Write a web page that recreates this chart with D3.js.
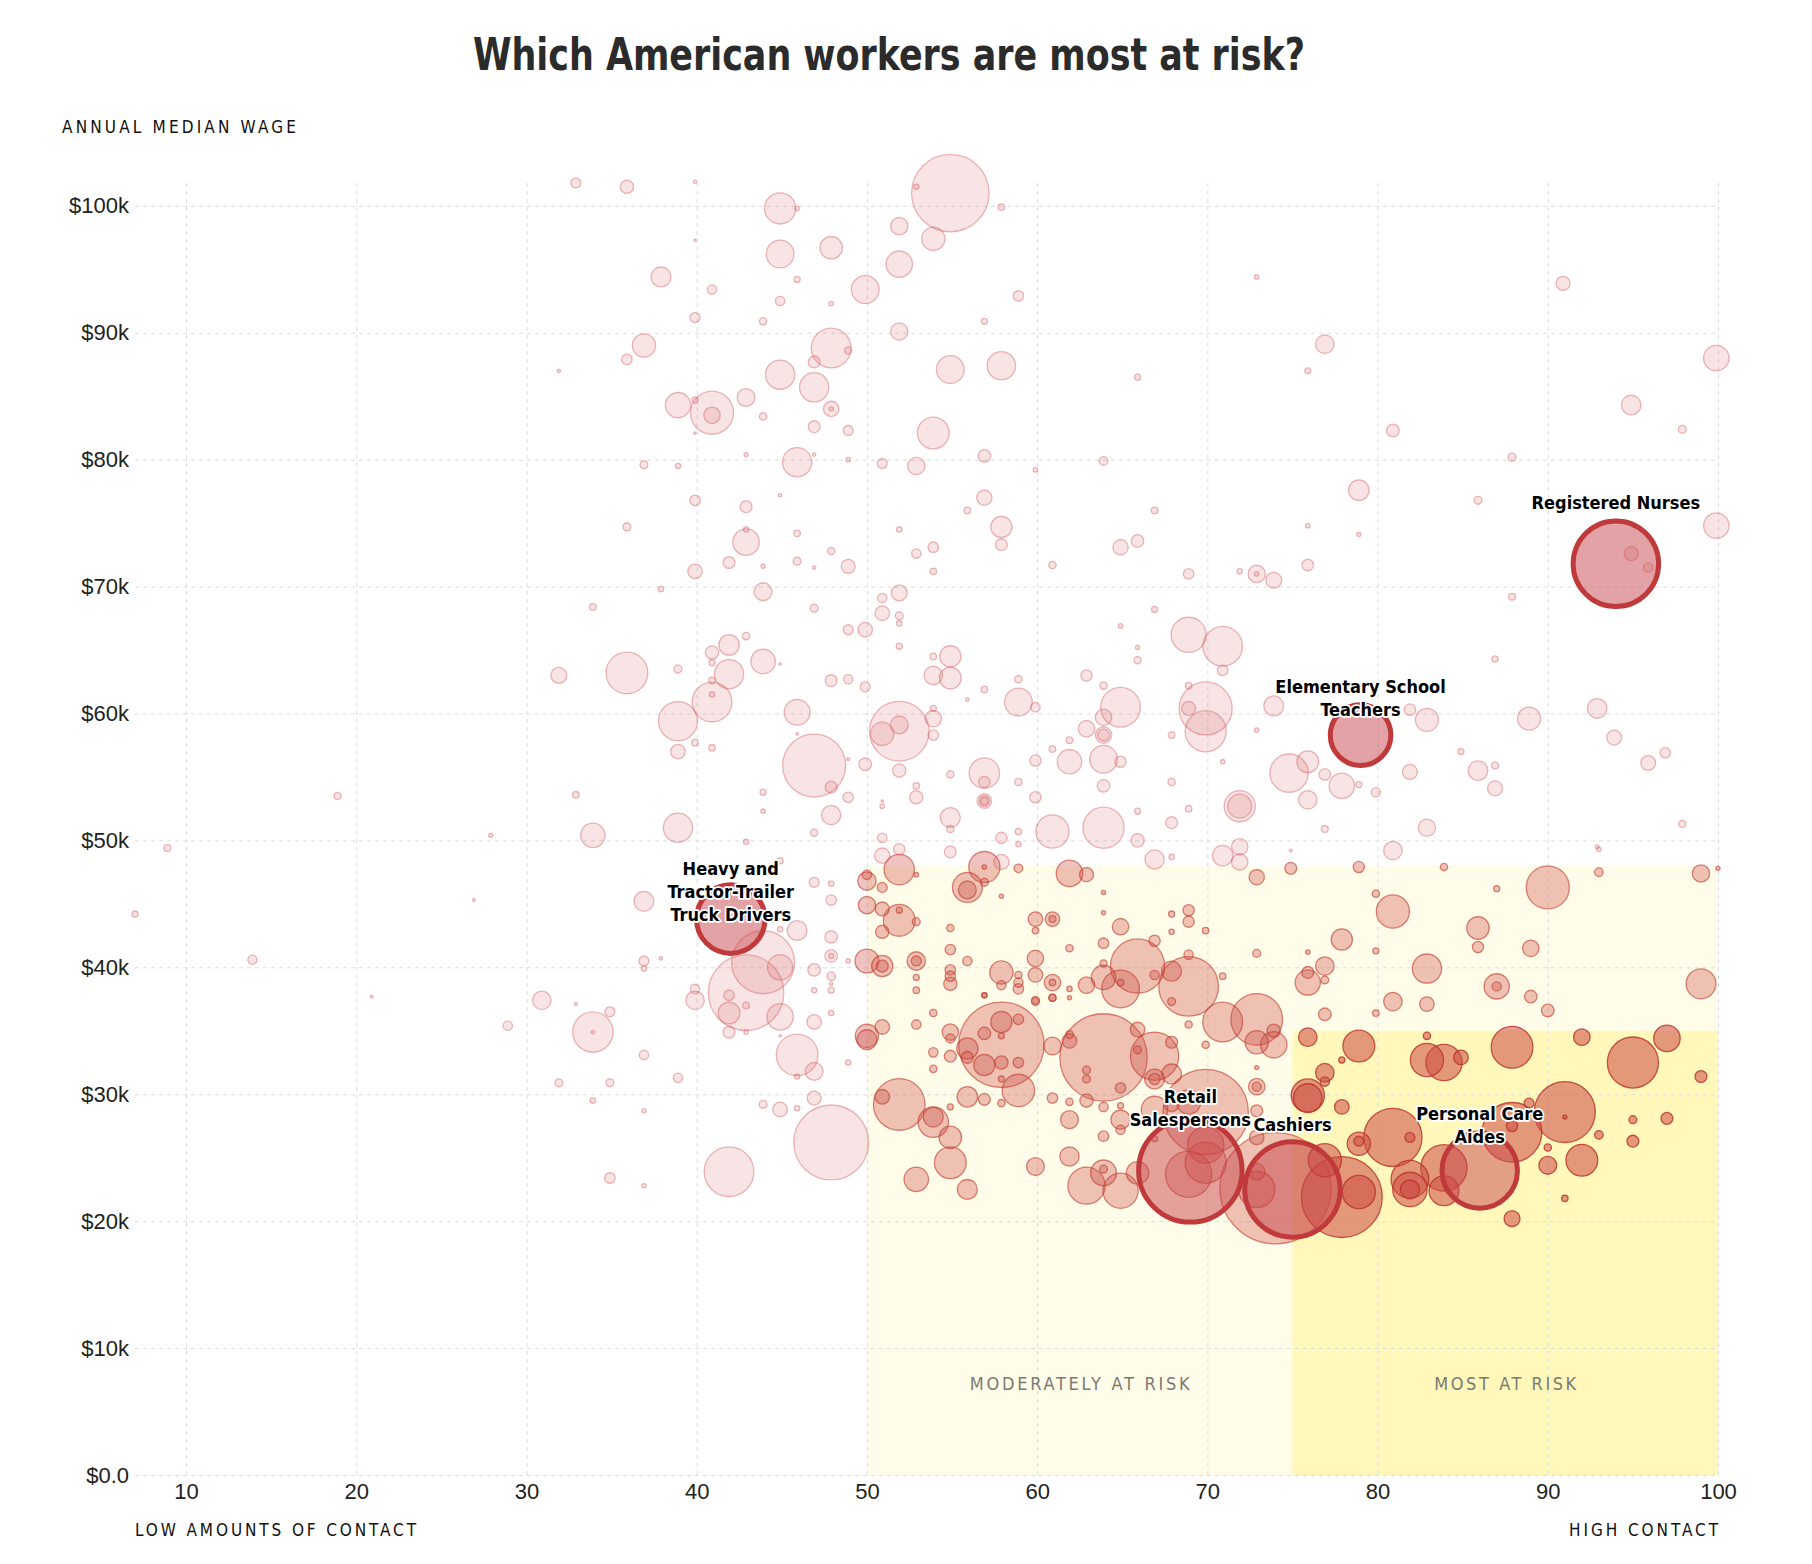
<!DOCTYPE html>
<html>
<head>
<meta charset="utf-8">
<script src="https://cdn.jsdelivr.net/npm/d3@7"></script>
<style>
  body { margin: 0; background: #fff; }
  text { font-family: "DejaVu Sans Condensed", "DejaVu Sans", sans-serif; font-stretch: condensed; }
  .tick text { font-family: "Liberation Sans", Arial, sans-serif; font-stretch: normal; font-size: 22px; fill: #222; }
  .grid line { stroke: #dcdcdc; stroke-dasharray: 4,4; }
</style>
</head>
<body>
<div id="chart"></div>
<script>
/* Data: [contact score, annual median wage ($k), employment (thousands)] */
var pale = [
  [32.9,101.8,35],[35.9,101.5,63],[39.9,101.9,4],[44.9,99.8,345],[45.9,99.8,7],[39.9,97.3,2],[44.9,96.2,274],[47.9,96.7,179],
  [37.9,94.4,140],[40.9,93.4,31],[45.9,94.2,13],[49.9,93.4,274],[44.9,92.5,31],[47.9,92.3,7],[39.9,91.2,35],[43.9,90.9,19],
  [36.9,89.0,192],[47.9,88.8,560],[48.9,88.6,19],[35.9,87.9,39],[46.9,87.7,50],[31.9,87.0,4],[44.9,86.7,303],[46.9,85.7,303],
  [47.9,84.0,83],[47.9,84.0,6],[38.9,84.3,226],[40.9,83.7,659],[40.9,83.5,96],[39.9,84.7,13],[42.9,84.9,113],[43.9,83.4,19],
  [46.9,82.6,50],[48.9,82.3,35],[39.9,82.1,2],[45.9,79.8,303],[42.9,80.4,6],[46.9,80.4,4],[48.9,80.0,7],[36.9,79.6,22],
  [38.9,79.5,10],[39.9,76.8,39],[44.9,77.2,4],[42.9,76.3,50],[35.9,74.7,22],[42.9,73.5,248],[42.9,74.5,10],[45.9,74.2,15],
  [41.9,71.9,50],[43.9,71.6,6],[45.9,72.0,22],[46.9,71.5,4],[47.9,72.8,19],[48.9,71.6,69],[39.9,71.2,75],[37.9,69.8,10],
  [43.9,69.6,113],
  [54.9,101.0,2129],[52.9,101.5,10],[57.9,99.9,15],[51.9,98.4,106],[53.9,97.4,192],[51.9,95.4,248],[58.9,92.9,39],[56.9,90.9,13],
  [72.9,94.4,7],[51.9,90.1,106],[54.9,87.1,274],[57.9,87.4,286],[65.9,86.5,13],[53.9,82.1,358],[56.9,80.3,56],[50.9,79.7,35],
  [52.9,79.5,106],[59.9,79.2,7],[63.9,79.9,26],[56.9,77.0,83],[55.9,76.0,15],[51.9,74.5,10],[57.9,74.7,160],[57.9,73.3,50],
  [52.9,72.6,31],[53.9,73.1,39],[53.9,71.2,15],[60.9,71.7,19],[66.9,76.0,15],[64.9,73.1,83],[65.9,73.6,56],[68.9,71.0,39],
  [71.9,71.2,10],[72.9,71.0,106],[72.9,71.0,7],[73.9,70.5,90],[51.9,69.5,90],[50.9,69.1,31],
  [90.9,93.9,69],[76.9,89.1,121],[75.9,87.0,12],[99.9,88.0,229],[94.9,84.3,137],[97.9,82.4,22],[80.9,82.3,57],[87.9,80.2,22],
  [78.9,77.6,151],[85.9,76.8,22],[99.9,74.8,229],[75.9,74.8,7],[78.9,74.1,6],[75.9,71.7,47],[94.9,72.6,69],[95.9,71.5,30],
  [87.9,69.2,17],
  [18.9,53.5,17],[27.9,50.4,6],[8.9,49.4,17],[7.0,44.2,13],[26.9,45.3,3],[13.9,40.6,30],[20.9,37.7,3],
  [33.9,68.4,15],[46.9,68.3,22],[48.9,66.6,35],[49.9,66.6,75],[42.9,66.1,19],[41.9,65.4,149],[40.9,64.8,63],[40.9,64.0,13],
  [43.9,64.1,212],[44.9,63.9,2],[35.9,63.2,617],[31.9,63.0,90],[38.9,63.5,22],[41.9,63.1,303],[47.9,62.6,50],[48.9,62.7,31],
  [49.9,62.1,35],[40.9,60.9,560],[40.9,61.5,10],[40.9,62.6,15],[38.9,59.4,543],[45.9,60.1,237],[45.9,58.4,2],[46.9,55.9,1407],
  [47.9,54.2,50],[48.9,56.4,3],[49.9,56.0,56],[39.9,57.7,15],[40.9,57.3,15],[38.9,57.0,75],[32.9,53.6,15],[43.9,53.8,13],
  [43.9,52.3,7],[48.9,53.4,39],[47.9,52.0,132],[38.9,51.0,303],[33.9,50.4,212],[46.9,50.6,19],[42.9,49.9,10],[44.9,48.4,13],
  [46.9,46.7,35],[47.9,46.6,10],[47.9,45.3,39],[36.9,45.2,140],[45.9,42.9,140],[44.9,43.0,10],[47.9,42.4,56],
  [43.9,40.4,1407],[44.9,40.0,226],[47.9,40.9,56],[47.9,40.9,9],[36.9,40.5,35],[36.9,39.9,10],[37.9,40.7,4],[48.9,40.5,7],
  [46.9,39.8,56],[47.9,39.3,26],[46.9,38.2,10],[47.9,38.2,13],[47.9,38.7,4],[42.9,38.0,2022],[39.9,38.3,31],[39.9,37.4,121],
  [30.9,37.4,121],[32.9,37.1,3],
  [34.9,36.5,35],[33.9,34.9,577],[33.9,34.9,4],[28.9,35.4,31],[36.9,33.1,31],[38.9,31.3,31],[34.9,30.9,22],[31.9,30.9,22],
  [33.9,29.5,10],[36.9,28.7,6],[34.9,23.4,39],[36.9,22.8,6],[41.9,23.9,875],[41.9,36.4,169],[41.9,37.8,39],[41.9,34.9,50],
  [42.9,37.0,15],[42.9,34.9,7],[44.9,36.1,248],[44.9,34.6,2],[46.9,35.7,75],[47.9,36.4,10],[45.9,33.1,617],[46.9,31.8,113],
  [45.9,31.4,10],[48.9,32.5,10],[46.9,29.7,69],[43.9,29.2,22],[44.9,28.8,75],[45.9,28.9,10],[47.9,26.2,1990],
  [50.9,67.9,75],[51.9,67.7,22],[51.9,67.1,10],[51.9,65.3,13],[54.9,64.5,160],[53.9,64.5,15],[53.9,63.0,121],[54.9,62.8,169],
  [56.9,61.9,15],[55.9,61.1,4],[58.9,62.7,19],[58.9,60.9,274],[59.9,60.5,31],[51.9,58.6,1260],[50.9,58.4,192],[51.9,59.1,113],
  [53.9,59.6,96],[53.9,60.4,13],[53.9,58.3,39],[51.9,55.5,63],[52.9,54.3,15],[52.9,53.4,63],[50.9,53.1,2],[50.9,52.7,7],
  [54.9,55.2,19],[56.9,55.3,328],[56.9,54.6,45],[56.9,53.1,75],[56.9,53.1,40],[56.9,53.1,20],[54.9,51.8,140],[54.9,50.9,19],
  [59.9,53.4,45],[58.9,54.6,19],[59.9,56.3,45],[60.9,57.2,15],[61.9,57.9,15],[61.9,56.2,212],[62.9,63.0,45],[63.9,62.2,19],
  [64.9,60.5,560],[63.9,59.7,96],[62.9,58.8,96],[63.9,58.3,96],[63.9,58.3,50],[63.9,56.4,274],[64.9,56.2,45],[63.9,54.3,56],
  [64.9,66.9,7],[65.9,65.2,6],[65.9,64.2,19],[66.9,68.2,13],[68.9,66.2,439],[70.9,65.3,560],[70.9,63.4,39],[68.9,62.2,15],
  [69.9,60.4,998],[69.9,58.6,600],[68.9,60.4,69],[67.9,58.3,15],[65.9,52.3,13],[67.9,54.6,19],[68.9,52.5,15],[67.9,51.4,50],
  [60.9,50.7,390],[63.9,51.0,600],[65.9,50.0,63],[66.9,48.5,132],[67.9,48.7,10],[70.9,48.8,149],[71.9,49.5,96],[71.9,48.3,96],
  [71.9,52.7,345],[71.9,52.7,202],[70.9,56.2,7],[72.9,58.7,7],[73.9,60.6,140],[74.8,55.3,521],[58.9,50.7,15],[58.9,49.7,10],
  [57.9,50.2,45],[54.9,49.1,50],[51.9,49.3,45],[50.9,50.2,31],[50.9,48.8,83],[57.9,48.3,83],[74.9,49.2,3],
  [80.9,49.2,121],[93.0,49.3,7],
  [82.9,59.5,188],[81.9,60.3,47],[84.9,57.0,13],[85.9,55.5,137],[86.9,55.9,17],[86.9,54.1,79],[81.9,55.4,79],[77.9,54.3,229],
  [76.9,55.2,47],[75.9,56.2,169],[75.9,53.2,121],[78.9,54.4,13],[79.9,53.8,30],[76.9,50.9,17],[82.9,51.0,106],[88.9,59.6,188],
  [92.9,60.4,137],[93.9,58.1,79],[95.9,56.1,79],[96.9,56.9,38],[97.9,51.3,17],[92.9,49.5,5],[86.9,64.3,13]
];

var moderate = [
  [50,46.8,121],[50,47.3,31],[50,44.9,106],[50,40.5,202],
  [51.9,47.7,328],[52.9,47.3,7],[56.9,47.9,345],[56.9,47.9,7],[55.9,46.3,315],[55.9,46.1,113],[56.9,46.7,22],[58.9,47.8,26],
  [61.9,47.4,248],[62.9,47.3,69],[50.9,46.3,35],[50.9,44.6,69],[51.9,43.7,358],[51.9,44.5,13],[52.9,43.6,22],[50.9,42.8,63],
  [54.9,43.1,19],[57.9,45.6,6],[63.9,45.9,6],[63.9,44.3,6],[67.9,44.2,13],[68.9,44.5,45],[68.9,43.6,45],[69.9,42.9,15],
  [67.9,42.8,10],[66.9,42.1,45],[64.9,43.2,96],[63.9,41.9,39],[61.9,41.5,19],[60.9,43.8,75],[60.9,43.8,17],[59.9,43.8,75],
  [59.9,42.9,15],[54.9,41.4,39],[55.9,40.5,31],[52.9,40.5,121],[52.9,40.5,35],[50.9,40.1,160],[50.9,40.1,50],[52.9,39.2,13],
  [52.9,38.2,15],[54.9,39.8,39],[54.9,39.3,39],[54.9,38.7,63],[57.9,39.6,192],[57.9,38.6,31],[58.9,39.4,19],[58.9,38.8,31],
  [58.9,38.3,39],[56.9,37.8,10],[59.9,40.7,96],[59.9,39.4,75],[59.9,37.4,22],[60.9,38.8,96],[60.9,38.8,15],[60.9,37.6,19],
  [61.9,38.3,10],[61.9,37.6,6],[62.9,38.6,96],[63.9,39.2,212],[63.9,40.3,19],[65.9,40.1,1043],[64.9,38.3,505],[64.9,38.8,15],
  [66.9,39.4,31],[67.9,39.7,140],[68.9,38.5,1260],[67.9,37.3,22],[68.9,41.0,31],[70.9,39.3,15],[72.9,41.1,22],[72.9,47.1,83],
  [74.9,47.8,50],
  [50,34.6,192],[50,34.3,140],
  [50.9,35.3,75],[52.9,35.5,31],[53.9,36.4,19],[53.9,33.3,31],[53.9,32.0,19],[54.9,34.9,96],[54.9,34.4,30],[54.9,33.0,50],
  [55.9,33.6,160],[55.9,32.9,50],[56.9,37.8,10],[56.9,34.8,56],[56.9,32.3,160],[57.9,33.9,2589],[57.9,35.7,160],[57.9,34.6,13],
  [58.9,35.9,39],[57.9,32.5,63],[58.9,32.5,39],[58.9,30.3,372],[57.9,31.2,13],[55.9,29.8,149],[56.9,29.6,50],[57.9,29.3,19],
  [51.9,29.2,946],[50.9,29.8,75],[53.9,27.8,328],[53.9,28.2,140],[54.9,29.0,13],[54.9,26.6,179],[54.9,24.6,358],[52.9,23.3,212],
  [55.9,22.5,140],[59.9,37.3,22],[60.9,37.6,19],[60.9,33.8,113],[61.9,34.2,75],[61.9,34.7,22],[63.9,32.9,2710],[62.9,31.9,22],
  [62.9,31.2,22],[64.9,30.5,39],[65.9,35.1,75],[65.9,33.5,22],[66.9,33.0,827],[67.9,34.1,50],[66.9,31.2,140],[66.9,31.2,45],
  [67.9,31.6,140],[60.9,29.7,39],[61.9,29.4,19],[62.9,29.5,63],[61.9,28.0,113],[63.9,29.0,31],[64.9,29.1,13],[64.9,28.0,132],
  [64.9,27.2,31],[63.9,26.7,39],[61.9,25.1,132],[59.9,24.3,113],[62.9,22.8,490],[63.9,23.8,237],[63.9,24.1,22],[64.9,22.4,439],
  [65.9,23.8,179],[66.9,28.8,248],[66.9,26.5,13],[67.9,29.2,75],[68.9,29.4,212],[69.9,28.6,2589],[68.9,23.7,760],[69.9,24.6,600],
  [69.9,26.0,469],[70.9,35.7,560],[72.9,35.9,946],[72.9,34.1,192],[73.9,33.9,248],[73.9,35.0,63],[69.9,33.9,19],[68.9,35.5,19],
  [72.9,32.1,6],[72.9,30.6,96],[72.9,30.6,30],[72.9,28.7,50],[72.9,26.6,75],[72.9,23.9,96],[72.9,22.5,469],[74.0,22.6,4390],
  [78.9,47.9,45],[83.9,47.9,19],[87.0,46.2,13],[90.0,46.3,659],[93.0,47.5,26],[99.0,47.4,106],[100,47.8,6],[79.9,45.8,19],
  [80.9,44.4,390],[77.9,42.2,160],[85.9,43.1,179],[85.9,41.6,45],[89.0,41.5,96],[75.9,41.2,7],[79.9,41.3,13],[76.9,40.1,121],
  [75.9,39.6,50],[75.9,38.8,226],[76.9,39.0,22],[82.9,39.9,303],[87.0,38.5,226],[87.0,38.5,30],[89.0,37.7,56],[90.0,36.6,56],
  [80.9,37.3,121],[82.9,37.1,75],[79.9,36.4,15],[76.9,36.3,56],[99.0,38.7,315]
];

var mostAtRisk = [
  [75.9,34.5,121],[78.9,33.8,358],[77.9,32.7,13],[82.9,34.6,19],[82.9,32.7,390],[83.9,32.5,469],[84.9,32.9,75],[87.9,33.7,617],
  [92.0,34.5,96],[95.0,32.5,925],[97.0,34.4,248],[99.0,31.4,50],[76.9,31.7,121],[76.9,31.0,31],[75.9,29.9,390],[75.9,29.7,290],
  [77.9,29.0,75],[78.9,26.1,192],[78.9,26.3,35],[80.9,26.6,1202],[81.9,26.6,35],[76.9,24.8,390],[77.9,21.9,2319],[78.9,22.3,390],
  [81.9,23.3,505],[81.9,22.5,419],[81.9,22.5,126],[83.9,24.2,760],[83.9,22.4,315],[87.9,27.0,1260],[87.9,27.5,45],[88.9,29.3,35],
  [91.0,28.6,1319],[91.0,28.2,6],[93.0,26.8,26],[90.0,25.8,19],[90.0,24.4,113],[92.0,24.8,358],[95.0,28.0,22],[95.0,26.3,50],
  [97.0,28.1,50],[91.0,21.8,15],[87.9,20.2,90]
];

var highlights = [
  {name: ["Heavy and", "Tractor-Trailer", "Truck Drivers"], contact: 42, wage: 43.8, emp: 1666, dy: 2},
  {name: ["Registered Nurses"], contact: 94, wage: 71.8, emp: 2590, dy: -55},
  {name: ["Elementary School", "Teachers"], contact: 79, wage: 58.3, emp: 1302, dy: -19},
  {name: ["Retail", "Salespersons"], contact: 69, wage: 24.0, emp: 3790, dy: -44},
  {name: ["Cashiers"], contact: 75, wage: 22.5, emp: 3225, dy: -58},
  {name: ["Personal Care", "Aides"], contact: 86, wage: 24.0, emp: 2020, dy: -27}
];

var xTicks = [10, 20, 30, 40, 50, 60, 70, 80, 90, 100];
var yTicks = [0, 10, 20, 30, 40, 50, 60, 70, 80, 90, 100];

/* risk zones: contact from x0 to 100, wage up to maxWage */
var zones = [
  {label: "MODERATELY AT RISK", x0: 50, x1: 75, maxWage: 48, fill: "#fffce9"},
  {label: "MOST AT RISK", x0: 75, x1: 100, maxWage: 35, fill: "#fff8ba"}
];

/* Settings */
var width = 1812,
    height = 1564,
    plotLeft = 135,
    plotRight = 1718,
    plotTop = 183,
    plotBottom = 1475;

var x = d3.scaleLinear().domain([7, 100]).range([plotLeft, plotRight]);
var y = d3.scaleLinear().domain([0, 101.8]).range([plotBottom, plotTop]);
var r = d3.scaleSqrt().domain([0, 4400]).range([0, 55.7]);

var svg = d3.select("#chart").append("svg")
    .attr("width", width)
    .attr("height", height)
    .attr("viewBox", "0 0 " + width + " " + height);

/* Zones */
svg.selectAll("rect.zone")
  .data(zones)
  .enter().append("rect")
  .attr("class", "zone")
  .attr("x", function(d) { return x(d.x0); })
  .attr("y", function(d) { return y(d.maxWage); })
  .attr("width", function(d) { return x(100) - x(d.x0); })
  .attr("height", function(d) { return y(0) - y(d.maxWage); })
  .attr("fill", function(d) { return d.fill; });

/* Grid + axes */
var yAxis = svg.append("g")
  .attr("class", "grid")
  .attr("transform", "translate(" + plotLeft + ",0)")
  .call(d3.axisLeft(y)
    .tickValues(yTicks)
    .tickSize(-(plotRight - plotLeft))
    .tickPadding(6)
    .tickFormat(function(d) { return d === 0 ? "$0.0" : "$" + d + "k"; }));
yAxis.select(".domain").remove();

var xAxis = svg.append("g")
  .attr("class", "grid")
  .attr("transform", "translate(0," + plotBottom + ")")
  .call(d3.axisBottom(x)
    .tickValues(xTicks)
    .tickSize(-(plotBottom - plotTop))
    .tickPadding(8));
xAxis.select(".domain").remove();

/* Zone labels */
svg.selectAll("text.zone-label")
  .data(zones)
  .enter().append("text")
  .attr("class", "zone-label")
  .attr("x", function(d) { return x((d.x0 + d.x1) / 2); })
  .attr("y", y(6.7))
  .attr("text-anchor", "middle")
  .attr("font-size", 18)
  .attr("fill", "#7a7a72")
  .attr("textLength", function(d) { return d.label.length > 12 ? 220 : 142; })
  .attr("lengthAdjust", "spacing")
  .text(function(d) { return d.label; });

/* Bubbles */
var styles = {
  pale:     {fill: "#d2555a", fo: 0.16, stroke: "#d2555a", so: 0.42},
  moderate: {fill: "#cc4a44", fo: 0.33, stroke: "#c0392b", so: 0.6},
  most:     {fill: "#cc4a44", fo: 0.55, stroke: "#b8302a", so: 0.8}
};

var all = []
  .concat(pale.map(function(d) { return {c: d[0], w: d[1], e: d[2], s: "pale"}; }))
  .concat(moderate.map(function(d) { return {c: d[0], w: d[1], e: d[2], s: "moderate"}; }))
  .concat(mostAtRisk.map(function(d) { return {c: d[0], w: d[1], e: d[2], s: "most"}; }));
all.sort(function(a, b) { return b.e - a.e; });

svg.append("g").selectAll("circle")
  .data(all)
  .enter().append("circle")
  .attr("cx", function(d) { return x(d.c); })
  .attr("cy", function(d) { return y(d.w); })
  .attr("r", function(d) { return r(d.e); })
  .attr("fill", function(d) { return styles[d.s].fill; })
  .attr("fill-opacity", function(d) { return styles[d.s].fo; })
  .attr("stroke", function(d) { return styles[d.s].stroke; })
  .attr("stroke-opacity", function(d) { return styles[d.s].so; })
  .attr("stroke-width", 1.3);

/* Highlighted occupations */
svg.append("g").selectAll("circle")
  .data(highlights)
  .enter().append("circle")
  .attr("cx", function(d) { return x(d.contact); })
  .attr("cy", function(d) { return y(d.wage); })
  .attr("r", function(d) { return r(d.emp); })
  .attr("fill", "#c8454b")
  .attr("fill-opacity", 0.5)
  .attr("stroke", "#c0393b")
  .attr("stroke-width", 5);

var labels = svg.append("g").selectAll("text")
  .data(highlights)
  .enter().append("text")
  .attr("text-anchor", "middle")
  .attr("font-size", 18)
  .attr("font-weight", "bold")
  .attr("fill", "#000")
  .attr("stroke", "#fff")
  .attr("stroke-width", 3.5)
  .attr("stroke-linejoin", "round")
  .attr("paint-order", "stroke");

labels.each(function(d) {
  var t = d3.select(this),
      n = d.name.length;
  d.name.forEach(function(line, i) {
    t.append("tspan")
      .attr("x", x(d.contact))
      .attr("y", y(d.wage) + d.dy - (n - 1 - i) * 23)
      .text(line);
  });
});

/* Titles */
svg.append("text")
  .attr("x", 889)
  .attr("y", 70)
  .attr("text-anchor", "middle")
  .attr("font-size", 45)
  .attr("font-weight", "bold")
  .attr("fill", "#2b2b2b")
  .attr("textLength", 832)
  .attr("lengthAdjust", "spacingAndGlyphs")
  .text("Which American workers are most at risk?");

svg.append("text")
  .attr("x", 62)
  .attr("y", 133)
  .attr("font-size", 17)
  .attr("fill", "#111")
  .attr("textLength", 234)
  .attr("lengthAdjust", "spacing")
  .text("ANNUAL MEDIAN WAGE");

svg.append("text")
  .attr("x", 135)
  .attr("y", 1536)
  .attr("font-size", 17)
  .attr("fill", "#111")
  .attr("textLength", 281)
  .attr("lengthAdjust", "spacing")
  .text("LOW AMOUNTS OF CONTACT");

svg.append("text")
  .attr("x", 1569)
  .attr("y", 1536)
  .attr("font-size", 17)
  .attr("fill", "#111")
  .attr("textLength", 149)
  .attr("lengthAdjust", "spacing")
  .text("HIGH CONTACT");
</script>
</body>
</html>
